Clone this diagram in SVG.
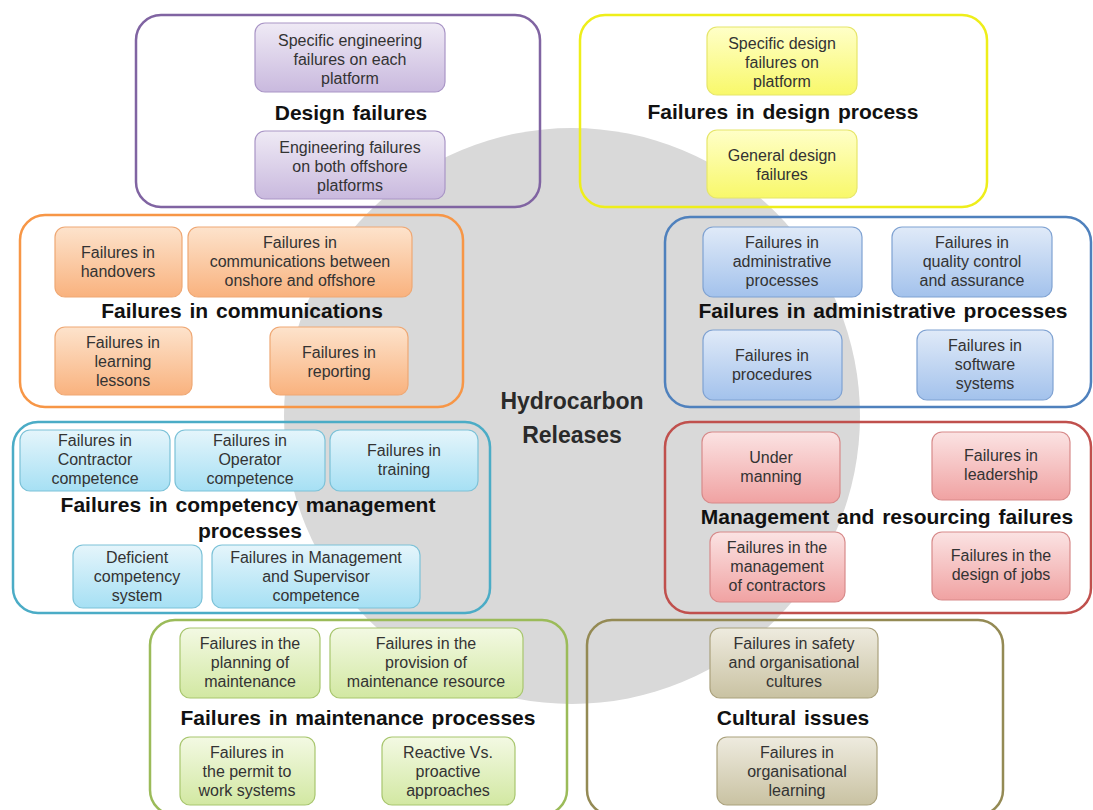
<svg xmlns="http://www.w3.org/2000/svg" width="1093" height="810" viewBox="0 0 1093 810">
<defs>
<linearGradient id="gP" x1="0" y1="0" x2="0" y2="1"><stop offset="0" stop-color="#efeaf5"/><stop offset="1" stop-color="#c9b9de"/></linearGradient>
<linearGradient id="gY" x1="0" y1="0" x2="0" y2="1"><stop offset="0" stop-color="#ffffc8"/><stop offset="1" stop-color="#f8f86a"/></linearGradient>
<linearGradient id="gO" x1="0" y1="0" x2="0" y2="1"><stop offset="0" stop-color="#fde3cc"/><stop offset="1" stop-color="#f9b27e"/></linearGradient>
<linearGradient id="gB" x1="0" y1="0" x2="0" y2="1"><stop offset="0" stop-color="#e0eaf8"/><stop offset="1" stop-color="#a3c2ec"/></linearGradient>
<linearGradient id="gC" x1="0" y1="0" x2="0" y2="1"><stop offset="0" stop-color="#e5f5fb"/><stop offset="1" stop-color="#a6e0f4"/></linearGradient>
<linearGradient id="gR" x1="0" y1="0" x2="0" y2="1"><stop offset="0" stop-color="#fbe3e3"/><stop offset="1" stop-color="#f0a2a2"/></linearGradient>
<linearGradient id="gG" x1="0" y1="0" x2="0" y2="1"><stop offset="0" stop-color="#f3f9e3"/><stop offset="1" stop-color="#d2e8a2"/></linearGradient>
<linearGradient id="gT" x1="0" y1="0" x2="0" y2="1"><stop offset="0" stop-color="#eeebdf"/><stop offset="1" stop-color="#c9c2a2"/></linearGradient>
</defs>
<style>
.cont{fill:none;stroke-width:2.5}
.box{stroke-width:1.2}
.bt{font-family:"Liberation Sans",Arial,sans-serif;font-size:16px;fill:#333;text-anchor:middle}
.tt{font-family:"Liberation Sans",Arial,sans-serif;font-size:21px;font-weight:bold;fill:#111;text-anchor:middle;word-spacing:2px}
.ct{font-family:"Liberation Sans",Arial,sans-serif;font-size:23px;font-weight:bold;fill:#2a2a2a;text-anchor:middle}
.p{fill:url(#gP);stroke:#a995c6}
.y{fill:url(#gY);stroke:#e6e66a}
.o{fill:url(#gO);stroke:#efa874}
.b{fill:url(#gB);stroke:#7fa2d2}
.c{fill:url(#gC);stroke:#7cc2d8}
.r{fill:url(#gR);stroke:#d78a8a}
.g{fill:url(#gG);stroke:#a8c66e}
.t{fill:url(#gT);stroke:#aaa17c}
</style>
<rect width="1093" height="810" fill="#ffffff"/>
<g id="hub">
<circle cx="572" cy="416" r="288" fill="#d9d9d9"/>
<text class="ct" x="572" y="409">Hydrocarbon</text>
<text class="ct" x="572" y="443">Releases</text>
</g>
<g id="connectors"></g>

<g id="design-failures">
<rect class="cont" x="136" y="15" width="404" height="192" rx="25" stroke="#8064a2"/>
<rect class="box p" x="255" y="23" width="190" height="69" rx="10"/>
<text class="bt" x="350" y="46">Specific engineering</text>
<text class="bt" x="350" y="65">failures on each</text>
<text class="bt" x="350" y="84">platform</text>
<text class="tt" x="351" y="120">Design failures</text>
<rect class="box p" x="255" y="131" width="190" height="68" rx="10"/>
<text class="bt" x="350" y="153">Engineering failures</text>
<text class="bt" x="350" y="172">on both offshore</text>
<text class="bt" x="350" y="191">platforms</text>
</g>

<g id="design-process">
<rect class="cont" x="580" y="15" width="407" height="192" rx="25" stroke="#eeee1a"/>
<rect class="box y" x="707" y="27" width="150" height="68" rx="10"/>
<text class="bt" x="782" y="49">Specific design</text>
<text class="bt" x="782" y="68">failures on</text>
<text class="bt" x="782" y="87">platform</text>
<text class="tt" x="783" y="119">Failures in design process</text>
<rect class="box y" x="707" y="130" width="150" height="68" rx="10"/>
<text class="bt" x="782" y="161">General design</text>
<text class="bt" x="782" y="180">failures</text>
</g>

<g id="communications">
<rect class="cont" x="20" y="215" width="443" height="192" rx="25" stroke="#f79646"/>
<rect class="box o" x="55" y="227" width="127" height="70" rx="10"/>
<text class="bt" x="118" y="258">Failures in</text>
<text class="bt" x="118" y="277">handovers</text>
<rect class="box o" x="188" y="227" width="224" height="70" rx="10"/>
<text class="bt" x="300" y="248">Failures in</text>
<text class="bt" x="300" y="267">communications between</text>
<text class="bt" x="300" y="286">onshore and offshore</text>
<text class="tt" x="242" y="318">Failures in communications</text>
<rect class="box o" x="55" y="327" width="137" height="68" rx="10"/>
<text class="bt" x="123" y="348">Failures in</text>
<text class="bt" x="123" y="367">learning</text>
<text class="bt" x="123" y="386">lessons</text>
<rect class="box o" x="270" y="327" width="138" height="68" rx="10"/>
<text class="bt" x="339" y="358">Failures in</text>
<text class="bt" x="339" y="377">reporting</text>
</g>

<g id="administrative">
<rect class="cont" x="665" y="217" width="426" height="190" rx="25" stroke="#4f81bd"/>
<rect class="box b" x="703" y="227" width="159" height="70" rx="10"/>
<text class="bt" x="782" y="248">Failures in</text>
<text class="bt" x="782" y="267">administrative</text>
<text class="bt" x="782" y="286">processes</text>
<rect class="box b" x="892" y="227" width="160" height="70" rx="10"/>
<text class="bt" x="972" y="248">Failures in</text>
<text class="bt" x="972" y="267">quality control</text>
<text class="bt" x="972" y="286">and assurance</text>
<text class="tt" x="883" y="318">Failures in administrative processes</text>
<rect class="box b" x="703" y="330" width="139" height="70" rx="10"/>
<text class="bt" x="772" y="361">Failures in</text>
<text class="bt" x="772" y="380">procedures</text>
<rect class="box b" x="917" y="330" width="136" height="70" rx="10"/>
<text class="bt" x="985" y="351">Failures in</text>
<text class="bt" x="985" y="370">software</text>
<text class="bt" x="985" y="389">systems</text>
</g>

<g id="competency">
<rect class="cont" x="13" y="422" width="477" height="191" rx="25" stroke="#4bacc6"/>
<rect class="box c" x="20" y="430" width="150" height="61" rx="10"/>
<text class="bt" x="95" y="446">Failures in</text>
<text class="bt" x="95" y="465">Contractor</text>
<text class="bt" x="95" y="484">competence</text>
<rect class="box c" x="175" y="430" width="150" height="61" rx="10"/>
<text class="bt" x="250" y="446">Failures in</text>
<text class="bt" x="250" y="465">Operator</text>
<text class="bt" x="250" y="484">competence</text>
<rect class="box c" x="330" y="430" width="148" height="61" rx="10"/>
<text class="bt" x="404" y="456">Failures in</text>
<text class="bt" x="404" y="475">training</text>
<text class="tt" x="248" y="512">Failures in competency management</text>
<text class="tt" x="250" y="538">processes</text>
<rect class="box c" x="73" y="545" width="129" height="63" rx="10"/>
<text class="bt" x="137" y="563">Deficient</text>
<text class="bt" x="137" y="582">competency</text>
<text class="bt" x="137" y="601">system</text>
<rect class="box c" x="212" y="545" width="208" height="63" rx="10"/>
<text class="bt" x="316" y="563">Failures in Management</text>
<text class="bt" x="316" y="582">and Supervisor</text>
<text class="bt" x="316" y="601">competence</text>
</g>

<g id="management">
<rect class="cont" x="665" y="422" width="426" height="191" rx="25" stroke="#c0504d"/>
<rect class="box r" x="702" y="432" width="138" height="71" rx="10"/>
<text class="bt" x="771" y="463">Under</text>
<text class="bt" x="771" y="482">manning</text>
<rect class="box r" x="932" y="432" width="138" height="68" rx="10"/>
<text class="bt" x="1001" y="461">Failures in</text>
<text class="bt" x="1001" y="480">leadership</text>
<text class="tt" x="887" y="524">Management and resourcing failures</text>
<rect class="box r" x="710" y="532" width="135" height="70" rx="10"/>
<text class="bt" x="777" y="553">Failures in the</text>
<text class="bt" x="777" y="572">management</text>
<text class="bt" x="777" y="591">of contractors</text>
<rect class="box r" x="932" y="532" width="138" height="68" rx="10"/>
<text class="bt" x="1001" y="561">Failures in the</text>
<text class="bt" x="1001" y="580">design of jobs</text>
</g>

<g id="maintenance">
<rect class="cont" x="150" y="620" width="417" height="195" rx="25" stroke="#9bbb59"/>
<rect class="box g" x="180" y="628" width="140" height="70" rx="10"/>
<text class="bt" x="250" y="649">Failures in the</text>
<text class="bt" x="250" y="668">planning of</text>
<text class="bt" x="250" y="687">maintenance</text>
<rect class="box g" x="330" y="628" width="193" height="70" rx="10"/>
<text class="bt" x="426" y="649">Failures in the</text>
<text class="bt" x="426" y="668">provision of</text>
<text class="bt" x="426" y="687">maintenance resource</text>
<text class="tt" x="358" y="725">Failures in maintenance processes</text>
<rect class="box g" x="180" y="737" width="135" height="68" rx="10"/>
<text class="bt" x="247" y="758">Failures in</text>
<text class="bt" x="247" y="777">the permit to</text>
<text class="bt" x="247" y="796">work systems</text>
<rect class="box g" x="382" y="737" width="133" height="68" rx="10"/>
<text class="bt" x="448" y="758">Reactive Vs.</text>
<text class="bt" x="448" y="777">proactive</text>
<text class="bt" x="448" y="796">approaches</text>
</g>

<g id="cultural">
<rect class="cont" x="587" y="620" width="416" height="195" rx="25" stroke="#948a54"/>
<rect class="box t" x="710" y="628" width="168" height="70" rx="10"/>
<text class="bt" x="794" y="649">Failures in safety</text>
<text class="bt" x="794" y="668">and organisational</text>
<text class="bt" x="794" y="687">cultures</text>
<text class="tt" x="793" y="725">Cultural issues</text>
<rect class="box t" x="717" y="737" width="160" height="68" rx="10"/>
<text class="bt" x="797" y="758">Failures in</text>
<text class="bt" x="797" y="777">organisational</text>
<text class="bt" x="797" y="796">learning</text>
</g>
</svg>
